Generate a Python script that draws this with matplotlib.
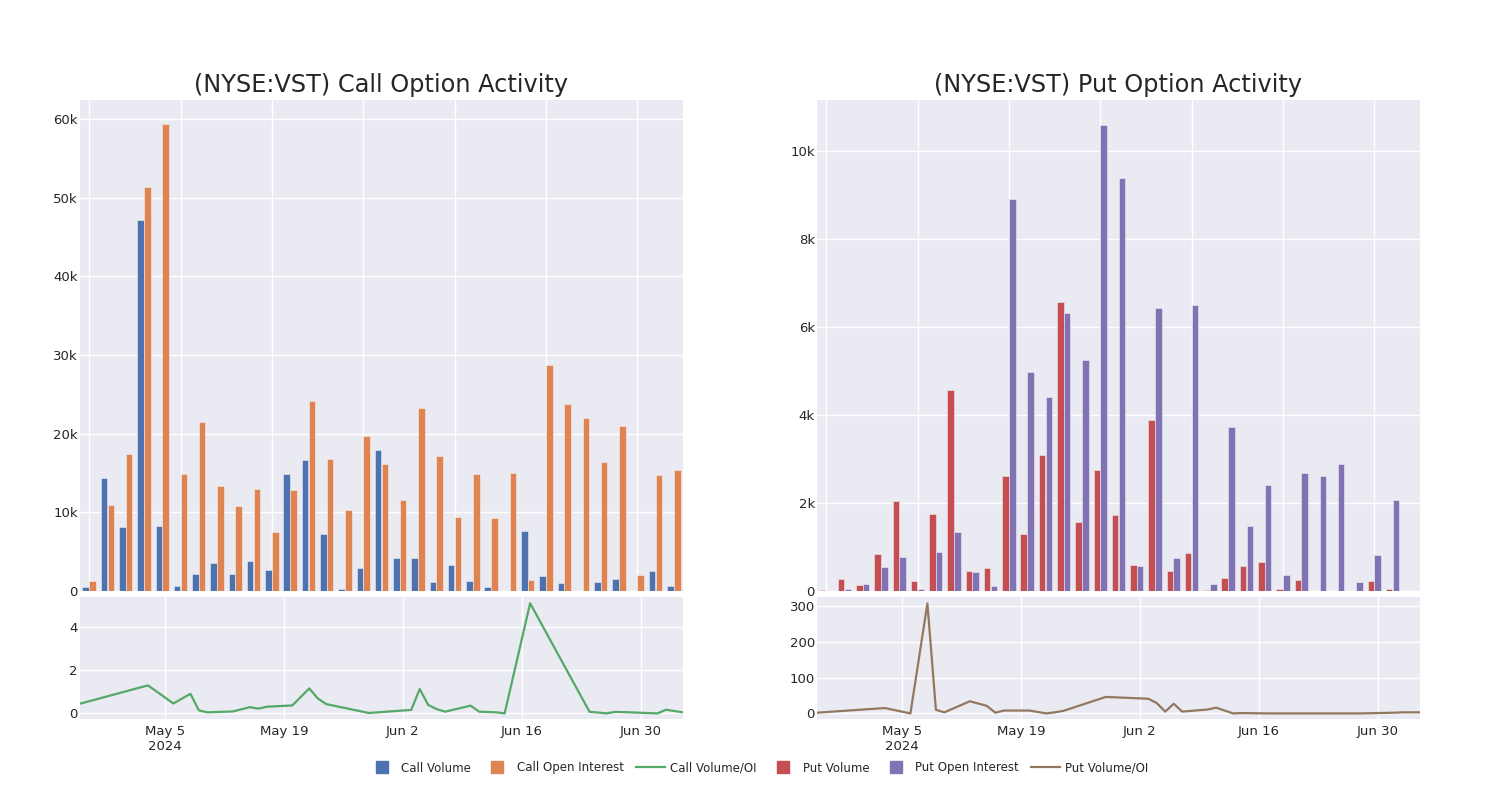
import numpy as np
import pandas as pd
import matplotlib
matplotlib.use("Agg")
import matplotlib.pyplot as plt
from matplotlib.ticker import FuncFormatter, MultipleLocator
from matplotlib.lines import Line2D

# trading days shown in the chart
dates = pd.to_datetime([
    "2024-04-25", "2024-05-03", "2024-05-06", "2024-05-08", "2024-05-09", "2024-05-10",
    "2024-05-13", "2024-05-15", "2024-05-16", "2024-05-17", "2024-05-20", "2024-05-22",
    "2024-05-23", "2024-05-24", "2024-05-29", "2024-06-03", "2024-06-04", "2024-06-05",
    "2024-06-06", "2024-06-07", "2024-06-10", "2024-06-11", "2024-06-13", "2024-06-14",
    "2024-06-17", "2024-06-24", "2024-06-25", "2024-06-26", "2024-06-27", "2024-06-28",
    "2024-07-02", "2024-07-03", "2024-07-05",
])

call_volume = [530, 14350, 8100, 47100, 8300, 660, 2100, 3600, 2100, 3800, 2650, 14900,
               16600, 7300, 280, 2950, 17950, 4200, 4200, 1100, 3250, 1300, 450, 50,
               7650, 1930, 1080, 50, 1100, 1500, 0, 2500, 660]
call_oi = [1300, 10900, 17450, 51400, 59300, 14900, 21500, 13300, 10800, 13000, 7450, 12800,
           24200, 16800, 10300, 19700, 16100, 11600, 23300, 17100, 9400, 14850, 9300, 15050,
           1420, 28700, 23800, 22000, 16350, 21000, 1970, 14800, 15400]
call_ratio = [0.45, 1.30, 0.46, 0.91, 0.14, 0.05, 0.09, 0.29, 0.22, 0.31, 0.37, 1.16,
              0.69, 0.43, 0.02, 0.16, 1.13, 0.39, 0.20, 0.08, 0.36, 0.08, 0.05, 0.0,
              5.11, 0.07, 0.04, 0.0, 0.07, 0.06, 0.0, 0.17, 0.05]

put_volume = [20, 280, 140, 850, 2040, 230, 1740, 4560, 460, 520, 2620, 1290,
              3100, 6580, 1560, 2740, 1720, 600, 3880, 460, 860, 20, 290, 560,
              660, 40, 250, 10, 0, 10, 220, 40, 10]
put_oi = [10, 40, 150, 540, 780, 50, 890, 1350, 440, 110, 8920, 4980,
          4400, 6320, 5260, 10600, 9390, 560, 6440, 760, 6510, 150, 3730, 1470,
          2410, 360, 2680, 2610, 2880, 200, 810, 2070, 0]
put_ratio = [2, 15, 0, 307, 10, 3, 34, 21, 2, 8, 8, 0,
             3, 7, 46, 41, 29, 5, 27, 5, 11, 16, 0, 1,
             0, 0, 0, 0, 0, 0, 2, 3, 3]

BG = "#EAEAF2"
TXT = "#262626"
c_blue, c_orange, c_green = "#4C72B0", "#DD8452", "#55A868"
c_red, c_purple, c_brown = "#C44E52", "#8172B3", "#937860"

fig = plt.figure(figsize=(15, 8), dpi=100)
W, H = 1500, 800


def px_axes(x0, y0, x1, y1):
    return fig.add_axes([x0 / W, (H - y1) / H, (x1 - x0) / W, (y1 - y0) / H])


def style(ax):
    ax.set_facecolor(BG)
    for s in ax.spines.values():
        s.set_visible(False)
    ax.grid(True, color="white", linewidth=1.0)
    ax.set_axisbelow(True)
    ax.tick_params(length=0, labelsize=9.5, colors=TXT, pad=1.5)


def kfmt(v, pos):
    if v == 0:
        return "0"
    return f"{int(round(v / 1000))}k"


def panel(x0, title, vol, oi, ratio, cv, co, cr, bar_top, bar_step, line_lim, line_step):
    x = np.arange(len(dates))
    axb = px_axes(x0, 100, x0 + 603, 591)
    style(axb)
    axb.bar(x - 0.185, vol, width=0.36, color=cv, edgecolor=(1, 1, 1, 0.45), linewidth=0.7)
    axb.bar(x + 0.185, oi, width=0.36, color=co, edgecolor=(1, 1, 1, 0.45), linewidth=0.7)
    axb.set_xlim(-0.5, len(dates) - 0.5)
    axb.set_ylim(0, bar_top)
    axb.set_xticks(np.arange(0, len(dates), 5))
    axb.tick_params(labelbottom=False)
    axb.yaxis.set_major_locator(MultipleLocator(bar_step))
    axb.yaxis.set_major_formatter(FuncFormatter(kfmt))
    axb.set_title(title, fontsize=17.3, color=TXT, pad=6)

    axl = px_axes(x0, 597, x0 + 603, 719)
    style(axl)
    axl.plot(dates, ratio, color=cr, linewidth=1.6)
    axl.set_xlim(dates[0], dates[-1])
    axl.set_ylim(*line_lim)
    axl.yaxis.set_major_locator(MultipleLocator(line_step))
    ticks = pd.date_range("2024-05-05", "2024-06-30", freq="14D")
    axl.set_xticks(ticks)
    labels = [d.strftime("%b ") + str(d.day) for d in ticks]
    labels[0] = labels[0] + "\n2024"
    axl.set_xticklabels(labels)
    axl.tick_params(axis="x", pad=4)
    return axb, axl


panel(80, "(NYSE:VST) Call Option Activity", call_volume, call_oi, call_ratio,
      c_blue, c_orange, c_green, 62400, 10000, (-0.26, 5.4), 2)
panel(817, "(NYSE:VST) Put Option Activity", put_volume, put_oi, put_ratio,
      c_red, c_purple, c_brown, 11160, 2000, (-15.6, 325), 100)

handles = [
    Line2D([], [], marker="s", linestyle="none", color=c_blue, markersize=8.5),
    Line2D([], [], marker="s", linestyle="none", color=c_orange, markersize=8.5),
    Line2D([], [], color=c_green, linewidth=1.6),
    Line2D([], [], marker="s", linestyle="none", color=c_red, markersize=8.5),
    Line2D([], [], marker="s", linestyle="none", color=c_purple, markersize=8.5),
    Line2D([], [], color=c_brown, linewidth=1.6),
]
labels = ["Call Volume", "Call Open Interest", "Call Volume/OI",
          "Put Volume", "Put Open Interest", "Put Volume/OI"]
fig.legend(handles, labels, loc="center", bbox_to_anchor=(0.505, 0.04), ncol=6,
           frameon=False, fontsize=8.5, handlelength=2.5, columnspacing=1.0,
           handletextpad=0.4, labelcolor=TXT)

fig.savefig("out.png", dpi=100)
